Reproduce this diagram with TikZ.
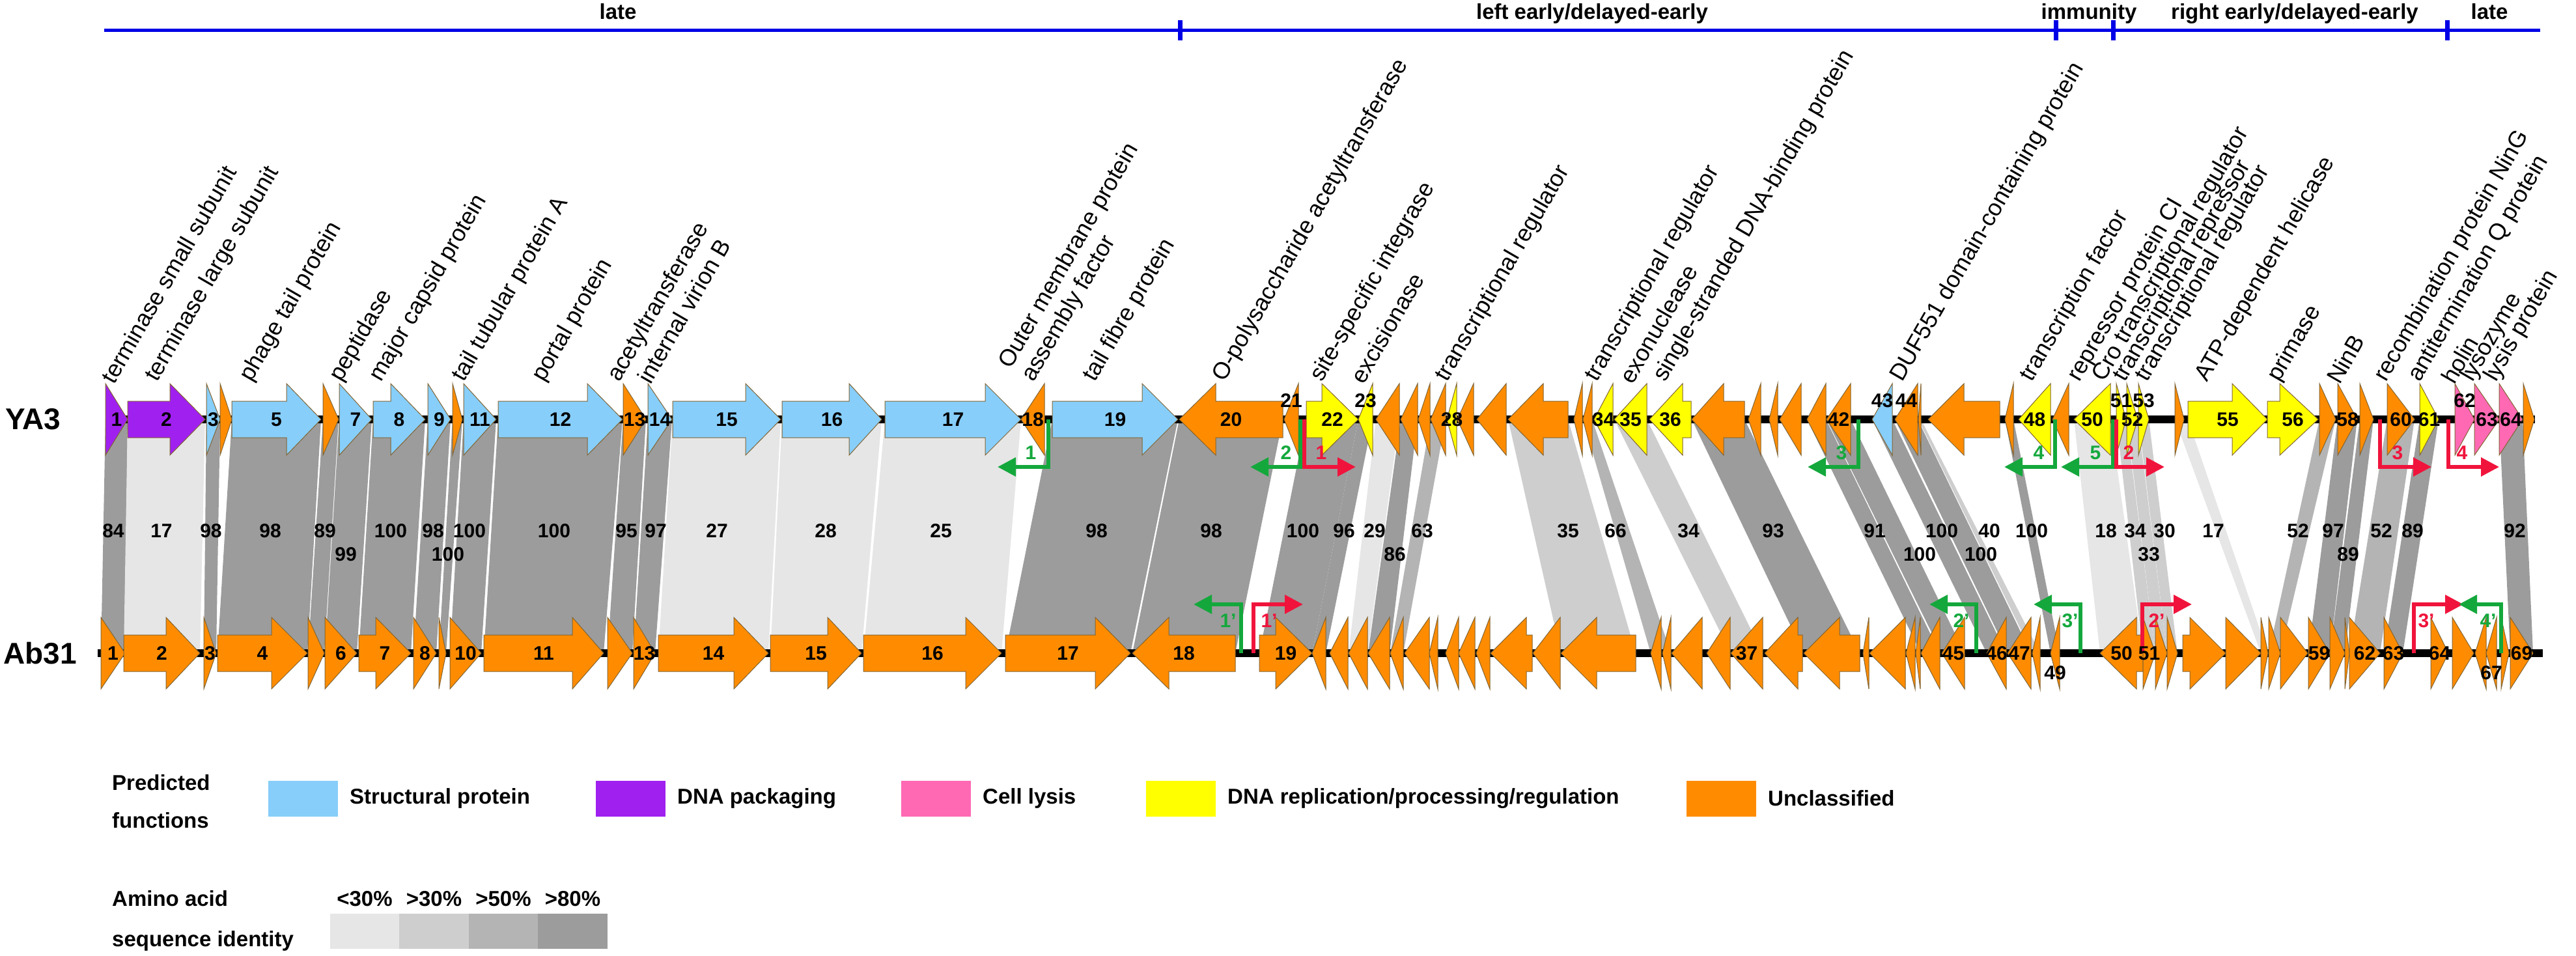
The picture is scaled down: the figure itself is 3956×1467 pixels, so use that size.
\documentclass[tikz,border=0pt]{standalone}
\usepackage{fontspec}
\setmainfont{Liberation Sans}
\usepackage{tikz}
\usetikzlibrary{arrows.meta}
\pgfdeclarelayer{labels}
\pgfsetlayers{main,labels}
\definecolor{blu}{RGB}{135,206,250}
\definecolor{pur}{RGB}{160,32,240}
\definecolor{pnk}{RGB}{255,105,180}
\definecolor{yel}{RGB}{255,255,0}
\definecolor{org}{RGB}{255,140,0}
\definecolor{id30}{RGB}{230,230,230}
\definecolor{id31}{RGB}{206,206,206}
\definecolor{id50}{RGB}{180,180,180}
\definecolor{id80}{RGB}{156,156,156}
\definecolor{grn}{RGB}{20,168,60}
\definecolor{rd}{RGB}{240,20,60}
\definecolor{phaseblue}{RGB}{0,0,230}
\definecolor{genedge}{RGB}{130,100,50}
\newcommand\gene[8][0]{%
  \fill[#7, draw=genedge, line width=1pt] (#3,#2-28) -- (#4,#2-28) -- (#4,#2-55) -- (#5,#2) -- (#4,#2+55) -- (#4,#2+28) -- (#3,#2+28) -- cycle;
  \begin{pgfonlayer}{labels}\node[genenum, yshift=#1pt] (#6) at ({(#3+#5)/2},#2) {#8};\end{pgfonlayer}}
\newcommand\band[9]{%
  \fill[#2] (#3,644) -- (#4,644) -- (#6,1003) -- (#5,1003) -- cycle;
  \begin{pgfonlayer}{labels}\node[genenum] (#1) at (#7,#8) {#9};\end{pgfonlayer}}
\newcommand\prom[9]{%
  \coordinate (#2a) at (#3,#4);
  \coordinate (#2b) at (#6,#5);
  \draw[prom, #1] (#2a) |- (#2b);
  \node[genenum, text=#1] (#2) at (#7,#8) {#9};}

\begin{document}
\begin{tikzpicture}
	[x=1pt,y=-1pt,
	genenum/.style={font=\fontsize{30}{36}\selectfont\bfseries, inner sep=0pt},
	genename/.style={font=\fontsize{36}{40}\selectfont, rotate=60, anchor=south west, inner sep=0pt},
	phase/.style={font=\fontsize{33}{40}\selectfont\bfseries, anchor=base, inner sep=0pt},
	rowname/.style={font=\fontsize{46}{52}\selectfont\bfseries, anchor=west, inner sep=0pt},
	legtext/.style={font=\fontsize{33}{40}\selectfont\bfseries, anchor=west, inner sep=0pt},
	legbox/.style={minimum width=107pt, minimum height=55pt, inner sep=0pt},
	idbox/.style={minimum width=106.5pt, minimum height=54pt, inner sep=0pt},
	genome/.style={line width=12pt, color=black},
	prom/.style={line width=6pt, -{Triangle[length=28pt,width=28pt]}}]
	\useasboundingbox (0,0) rectangle (3956,1467);

	\coordinate (tlA) at (160,46);
	\coordinate (tlB) at (3901,46);
	\draw [line width=5pt, color=phaseblue] (tlA) -- (tlB);
	\coordinate (tk1a) at (1812,31); \coordinate (tk1b) at (1812,62);
	\coordinate (tk2a) at (3157,31); \coordinate (tk2b) at (3157,62);
	\coordinate (tk3a) at (3245,31); \coordinate (tk3b) at (3245,62);
	\coordinate (tk4a) at (3758,31); \coordinate (tk4b) at (3758,62);
	\draw [line width=7pt, color=phaseblue] (tk1a) -- (tk1b);
	\draw [line width=7pt, color=phaseblue] (tk2a) -- (tk2b);
	\draw [line width=7pt, color=phaseblue] (tk3a) -- (tk3b);
	\draw [line width=7pt, color=phaseblue] (tk4a) -- (tk4b);
	\node[phase] (phLateA) at (949,29) {late};
	\node[phase] (phLeft) at (2445,29) {left early/delayed-early};
	\node[phase] (phImm) at (3208,29) {immunity};
	\node[phase] (phRight) at (3524,29) {right early/delayed-early};
	\node[phase] (phLateB) at (3823,29) {late};

	\band{pc1}{id80}{162}{196}{155}{192}{174}{815}{84}
	\band{pc2}{id30}{196}{315}{190}{307}{248}{815}{17}
	\band{pc3}{id80}{317}{338}{313}{332}{324}{815}{98}
	\band{pc5}{id80}{356}{493}{334}{472}{415}{815}{98}
	\band{pc6}{id80}{496}{520}{473}{498}{499}{815}{89}
	\band{pc7}{id80}{521}{571}{499}{548}{531}{851}{99}
	\band{pc8}{id80}{573}{653}{551}{631}{600}{815}{100}
	\band{pc9}{id80}{657}{692}{635}{670}{665}{815}{98}
	\band{pc10}{id80}{695}{710}{674}{685}{688}{851}{100}
	\band{pc11}{id80}{712}{762}{691}{739}{721}{815}{100}
	\band{pc12}{id80}{765}{956}{743}{927}{851}{815}{100}
	\band{pc13}{id80}{957}{992}{933}{971}{962}{815}{95}
	\band{pc14}{id80}{995}{1032}{973}{1006}{1007}{815}{97}
	\band{pc15}{id30}{1033}{1199}{1011}{1180}{1101}{815}{27}
	\band{pc16}{id30}{1201}{1354}{1183}{1323}{1268}{815}{28}
	\band{pc17}{id30}{1359}{1568}{1326}{1538}{1445}{815}{25}
	\band{pc19}{id80}{1616}{1809}{1544}{1736}{1684}{815}{98}
	\band{pc20}{id80}{1811}{1970}{1739}{1897}{1860}{815}{98}
	\band{pc22}{id80}{2006}{2086}{1934}{2015}{2001}{815}{100}
	\band{pc23}{id80}{2086}{2108}{2015}{2036}{2064}{815}{96}
	\band{pc24}{id30}{2113}{2149}{2071}{2100}{2111}{815}{29}
	\band{pc25}{id80}{2151}{2177}{2101}{2134}{2142}{851}{86}
	\band{pc27}{id50}{2197}{2220}{2135}{2155}{2184}{815}{63}
	\band{pc31}{id31}{2316}{2408}{2397}{2512}{2408}{815}{35}
	\band{pc33}{id50}{2431}{2445}{2535}{2566}{2481}{815}{66}
	\band{pc35}{id31}{2479}{2529}{2658}{2707}{2593}{815}{34}
	\band{pc37}{id80}{2598}{2679}{2770}{2856}{2723}{815}{93}
	\band{pc41}{id80}{2775}{2804}{2950}{2979}{2879}{815}{91}
	\band{pc42}{id80}{2805}{2842}{2982}{3017}{2948}{851}{100}
	\band{pc43}{id80}{2875}{2906}{3051}{3081}{2982}{815}{100}
	\band{pc44}{id80}{2910}{2945}{3083}{3119}{3042}{851}{100}
	\band{pc45}{id31}{2946}{2950}{3121}{3133}{3055}{815}{40}
	\band{pc47}{id80}{3079}{3092}{3149}{3163}{3120}{815}{100}
	\band{pc50}{id30}{3185}{3241}{3225}{3291}{3234}{815}{18}
	\band{pc51}{id31}{3250}{3265}{3291}{3310}{3279}{815}{34}
	\band{pc52}{id31}{3266}{3283}{3310}{3328}{3300}{851}{33}
	\band{pc53}{id31}{3284}{3300}{3328}{3344}{3324}{815}{30}
	\band{pc54}{id30}{3340}{3360}{3472}{3483}{3399}{815}{17}
	\band{pc57}{id50}{3562}{3587}{3484}{3502}{3529}{815}{52}
	\band{pc58}{id80}{3590}{3620}{3545}{3578}{3583}{815}{97}
	\band{pc59}{id80}{3624}{3645}{3578}{3601}{3606}{851}{89}
	\band{pc60}{id50}{3666}{3708}{3608}{3655}{3657}{815}{52}
	\band{pc61}{id80}{3716}{3745}{3661}{3690}{3705}{815}{89}
	\band{pc64}{id80}{3838}{3874}{3855}{3890}{3862}{815}{92}

	\coordinate (ya3s) at (162,644);
	\coordinate (ya3e) at (3893,644);
	\draw [genome] (ya3s) -- (ya3e);
	\coordinate (ab31s) at (150,1003);
	\coordinate (ab31e) at (3905,1003);
	\draw [genome] (ab31s) -- (ab31e);
	\node[rowname] (rowYA3) at (8,644) {YA3};
	\node[rowname] (rowAb31) at (5,1003) {Ab31};

	\gene{644}{162}{162}{196}{ya1}{pur}{1}
	\gene{644}{196}{261}{315}{ya2}{pur}{2}
	\gene{644}{317}{317}{338}{ya3}{blu}{3}
	\gene{644}{338}{338}{356}{ya4}{org}{}
	\gene{644}{356}{440}{493}{ya5}{blu}{5}
	\gene{644}{496}{496}{520}{ya6}{org}{}
	\gene{644}{521}{521}{571}{ya7}{blu}{7}
	\gene{644}{573}{600}{653}{ya8}{blu}{8}
	\gene{644}{657}{657}{692}{ya9}{blu}{9}
	\gene{644}{695}{695}{710}{ya10}{org}{}
	\gene{644}{712}{712}{762}{ya11}{blu}{11}
	\gene{644}{765}{902}{956}{ya12}{blu}{12}
	\gene{644}{957}{957}{992}{ya13}{org}{13}
	\gene{644}{995}{995}{1032}{ya14}{blu}{14}
	\gene{644}{1033}{1145}{1199}{ya15}{blu}{15}
	\gene{644}{1201}{1304}{1354}{ya16}{blu}{16}
	\gene{644}{1359}{1513}{1568}{ya17}{blu}{17}
	\gene{644}{1604}{1604}{1568}{ya18}{org}{18}
	\gene{644}{1616}{1754}{1809}{ya19}{blu}{19}
	\gene{644}{1970}{1867}{1811}{ya20}{org}{20}
	\gene[29]{644}{1994}{1994}{1972}{ya21}{org}{21}
	\gene{644}{2006}{2030}{2086}{ya22}{yel}{22}
	\gene[29]{644}{2108}{2108}{2086}{ya23}{yel}{23}
	\gene{644}{2149}{2149}{2113}{ya24}{org}{}
	\gene{644}{2177}{2177}{2151}{ya25}{org}{}
	\gene{644}{2196}{2196}{2178}{ya26}{org}{}
	\gene{644}{2220}{2220}{2197}{ya27}{org}{}
	\gene{644}{2237}{2237}{2222}{ya28}{yel}{28}
	\gene{644}{2263}{2263}{2238}{ya29}{org}{}
	\gene{644}{2313}{2313}{2268}{ya30}{org}{}
	\gene{644}{2408}{2370}{2316}{ya31}{org}{}
	\gene{644}{2430}{2430}{2417}{ya32}{org}{}
	\gene{644}{2445}{2445}{2431}{ya33}{org}{}
	\gene{644}{2477}{2477}{2448}{ya34}{yel}{34}
	\gene{644}{2529}{2529}{2479}{ya35}{yel}{35}
	\gene{644}{2597}{2584}{2533}{ya36}{yel}{36}
	\gene{644}{2679}{2647}{2598}{ya37}{org}{}
	\gene{644}{2704}{2704}{2685}{ya38}{org}{}
	\gene{644}{2730}{2730}{2717}{ya39}{org}{}
	\gene{644}{2766}{2766}{2733}{ya40}{org}{}
	\gene{644}{2804}{2804}{2775}{ya41}{org}{}
	\gene{644}{2842}{2842}{2805}{ya42}{org}{42}
	\gene[29]{644}{2906}{2906}{2875}{ya43}{blu}{43}
	\gene[29]{644}{2945}{2945}{2910}{ya44}{org}{44}
	\gene{644}{2950}{2950}{2946}{ya45}{org}{}
	\gene{644}{3071}{3016}{2961}{ya46}{org}{}
	\gene{644}{3092}{3092}{3079}{ya47}{org}{}
	\gene{644}{3149}{3149}{3100}{ya48}{yel}{48}
	\gene{644}{3177}{3177}{3152}{ya49}{org}{}
	\gene{644}{3241}{3241}{3185}{ya50}{yel}{50}
	\gene[29]{644}{3250}{3250}{3265}{ya51}{yel}{51}
	\gene{644}{3266}{3266}{3283}{ya52}{yel}{52}
	\gene[29]{644}{3284}{3284}{3300}{ya53}{yel}{53}
	\gene{644}{3340}{3340}{3354}{ya54}{org}{}
	\gene{644}{3360}{3428}{3482}{ya55}{yel}{55}
	\gene{644}{3482}{3501}{3560}{ya56}{yel}{56}
	\gene{644}{3562}{3562}{3587}{ya57}{org}{}
	\gene{644}{3590}{3590}{3620}{ya58}{org}{58}
	\gene{644}{3624}{3624}{3645}{ya59}{org}{}
	\gene{644}{3666}{3666}{3708}{ya60}{org}{60}
	\gene{644}{3716}{3716}{3745}{ya61}{yel}{61}
	\gene[29]{644}{3770}{3770}{3800}{ya62}{pnk}{62}
	\gene{644}{3800}{3800}{3838}{ya63}{pnk}{63}
	\gene{644}{3838}{3838}{3874}{ya64}{pnk}{64}
	\gene{644}{3875}{3875}{3892}{ya65}{org}{}

	\gene{1003}{155}{155}{192}{ab1}{org}{1}
	\gene{1003}{190}{255}{307}{ab2}{org}{2}
	\gene{1003}{313}{313}{332}{ab3}{org}{3}
	\gene{1003}{334}{417}{472}{ab4}{org}{4}
	\gene{1003}{473}{473}{498}{ab5}{org}{}
	\gene{1003}{499}{499}{548}{ab6}{org}{6}
	\gene{1003}{551}{577}{631}{ab7}{org}{7}
	\gene{1003}{635}{635}{670}{ab8}{org}{8}
	\gene{1003}{674}{674}{685}{ab9}{org}{}
	\gene{1003}{691}{691}{739}{ab10}{org}{10}
	\gene{1003}{743}{879}{927}{ab11}{org}{11}
	\gene{1003}{933}{933}{971}{ab12}{org}{}
	\gene{1003}{973}{973}{1006}{ab13}{org}{13}
	\gene{1003}{1011}{1127}{1180}{ab14}{org}{14}
	\gene{1003}{1183}{1271}{1323}{ab15}{org}{15}
	\gene{1003}{1326}{1483}{1538}{ab16}{org}{16}
	\gene{1003}{1544}{1682}{1736}{ab17}{org}{17}
	\gene{1003}{1897}{1795}{1739}{ab18}{org}{18}
	\gene{1003}{1934}{1959}{2015}{ab19}{org}{19}
	\gene{1003}{2036}{2036}{2015}{ab20}{org}{}
	\gene{1003}{2070}{2070}{2042}{ab21}{org}{}
	\gene{1003}{2100}{2100}{2071}{ab22}{org}{}
	\gene{1003}{2134}{2134}{2101}{ab23}{org}{}
	\gene{1003}{2155}{2155}{2135}{ab24}{org}{}
	\gene{1003}{2195}{2195}{2157}{ab25}{org}{}
	\gene{1003}{2208}{2208}{2195}{ab26}{org}{}
	\gene{1003}{2240}{2240}{2220}{ab27}{org}{}
	\gene{1003}{2265}{2265}{2240}{ab28}{org}{}
	\gene{1003}{2288}{2288}{2267}{ab29}{org}{}
	\gene{1003}{2353}{2344}{2289}{ab30}{org}{}
	\gene{1003}{2396}{2396}{2354}{ab31}{org}{}
	\gene{1003}{2512}{2452}{2397}{ab32}{org}{}
	\gene{1003}{2551}{2551}{2535}{ab33}{org}{}
	\gene{1003}{2566}{2566}{2553}{ab34}{org}{}
	\gene{1003}{2614}{2614}{2567}{ab35}{org}{}
	\gene{1003}{2657}{2657}{2621}{ab36}{org}{}
	\gene{1003}{2707}{2707}{2658}{ab37}{org}{37}
	\gene{1003}{2768}{2761}{2710}{ab38}{org}{}
	\gene{1003}{2856}{2825}{2770}{ab39}{org}{}
	\gene{1003}{2870}{2870}{2861}{ab40}{org}{}
	\gene{1003}{2926}{2926}{2871}{ab41}{org}{}
	\gene{1003}{2941}{2941}{2927}{ab42}{org}{}
	\gene{1003}{2949}{2949}{2942}{ab43}{org}{}
	\gene{1003}{2979}{2979}{2950}{ab44}{org}{}
	\gene{1003}{3017}{3017}{2982}{ab45}{org}{45}
	\gene{1003}{3081}{3081}{3051}{ab46}{org}{46}
	\gene{1003}{3119}{3119}{3083}{ab47}{org}{47}
	\gene{1003}{3133}{3133}{3121}{ab48}{org}{}
	\gene[-30]{1003}{3163}{3163}{3149}{ab49}{org}{49}
	\gene{1003}{3291}{3281}{3225}{ab50}{org}{50}
	\gene{1003}{3291}{3291}{3310}{ab51}{org}{51}
	\gene{1003}{3310}{3310}{3328}{ab52}{org}{}
	\gene{1003}{3328}{3328}{3344}{ab53}{org}{}
	\gene{1003}{3352}{3363}{3418}{ab54}{org}{}
	\gene{1003}{3418}{3418}{3472}{ab55}{org}{}
	\gene{1003}{3472}{3472}{3483}{ab56}{org}{}
	\gene{1003}{3484}{3484}{3502}{ab57}{org}{}
	\gene{1003}{3502}{3502}{3544}{ab58}{org}{}
	\gene{1003}{3545}{3545}{3578}{ab59}{org}{59}
	\gene{1003}{3578}{3578}{3601}{ab60}{org}{}
	\gene{1003}{3601}{3601}{3608}{ab61}{org}{}
	\gene{1003}{3608}{3608}{3655}{ab62}{org}{62}
	\gene{1003}{3661}{3661}{3690}{ab63}{org}{63}
	\gene{1003}{3733}{3733}{3760}{ab64}{org}{64}
	\gene{1003}{3766}{3766}{3799}{ab65}{org}{}
	\gene{1003}{3818}{3818}{3801}{ab66}{org}{}
	\gene[-30]{1003}{3834}{3834}{3818}{ab67}{org}{67}
	\gene{1003}{3841}{3841}{3853}{ab68}{org}{}
	\gene{1003}{3855}{3855}{3890}{ab69}{org}{69}

	\prom{grn}{pL1}{1610}{644}{717}{1532}{1583}{695}{1}
	\prom{grn}{pL2}{1997}{644}{717}{1920}{1975}{695}{2}
	\prom{rd}{pR1}{2003}{644}{717}{2082}{2029}{695}{1}
	\prom{grn}{pL3}{2854}{644}{717}{2776}{2828}{695}{3}
	\prom{grn}{pL4}{3156}{644}{717}{3078}{3131}{695}{4}
	\prom{grn}{pL5}{3245}{644}{717}{3165}{3218}{695}{5}
	\prom{rd}{pR2}{3250}{644}{717}{3324}{3269}{695}{2}
	\prom{rd}{pR3}{3655}{644}{717}{3734}{3682}{695}{3}
	\prom{rd}{pR4}{3760}{644}{717}{3838}{3781}{695}{4}
	\prom{grn}{qL1}{1906}{1003}{928}{1833}{1886}{953}{1’}
	\prom{rd}{qR1}{1925}{1003}{928}{2001}{1949}{953}{1’}
	\prom{grn}{qL2}{3035}{1003}{928}{2963}{3012}{953}{2’}
	\prom{grn}{qL3}{3195}{1003}{928}{3123}{3179}{953}{3’}
	\prom{rd}{qR2}{3290}{1003}{928}{3366}{3312}{953}{2’}
	\prom{rd}{qR3}{3707}{1003}{928}{3783}{3726}{953}{3’}
	\prom{grn}{qL4}{3841}{1003}{928}{3776}{3821}{953}{4’}

	\node[genename] (fnTermS) at (176,592) {terminase small subunit};
	\node[genename] (fnTermL) at (248,592) {terminase large subunit};
	\node[genename] (fnTail) at (393,592) {phage tail protein};
	\node[genename] (fnPept) at (531,592) {peptidase};
	\node[genename] (fnCapsid) at (592,592) {major capsid protein};
	\node[genename] (fnTubA) at (719,592) {tail tubular protein A};
	\node[genename] (fnPortal) at (842,592) {portal protein};
	\node[genename] (fnAcetyl) at (958,592) {acetyltransferase};
	\node[genename] (fnVirB) at (1000,592) {internal virion B};
	\node[genename, align=left] (fnOmp) at (1594,592) {Outer membrane protein\\assembly factor};
	\node[genename] (fnFibre) at (1688,592) {tail fibre protein};
	\node[genename] (fnOpoly) at (1887,592) {O-polysaccharide acetyltransferase};
	\node[genename] (fnInt) at (2037,592) {site-specific integrase};
	\node[genename] (fnExc) at (2095,592) {excisionase};
	\node[genename] (fnTrA) at (2229,592) {transcriptional regulator};
	\node[genename] (fnTrB) at (2459,592) {transcriptional regulator};
	\node[genename] (fnExo) at (2508,592) {exonuclease};
	\node[genename] (fnSsb) at (2564,592) {single-stranded DNA-binding protein};
	\node[genename] (fnDuf) at (2928,592) {DUF551 domain-containing protein};
	\node[genename] (fnTf) at (3127,592) {transcription factor};
	\node[genename] (fnCI) at (3200,592) {repressor protein CI};
	\node[genename] (fnCro) at (3238,592) {Cro transcriptional regulator};
	\node[genename] (fnTrRep) at (3270,592) {transcriptional repressor};
	\node[genename] (fnTrC) at (3304,592) {transcriptional regulator};
	\node[genename] (fnHel) at (3396,592) {ATP-dependent helicase};
	\node[genename] (fnPrim) at (3507,592) {primase};
	\node[genename] (fnNinB) at (3594,592) {NinB};
	\node[genename] (fnNinG) at (3671,592) {recombination protein NinG};
	\node[genename] (fnQ) at (3723,592) {antitermination Q protein};
	\node[genename] (fnHolin) at (3770,592) {holin};
	\node[genename] (fnLyso) at (3804,592) {lysozyme};
	\node[genename] (fnLysis) at (3840,592) {lysis protein};

	\node[legtext, align=left, font=\fontsize{33}{58}\selectfont\bfseries] (lgFunc) at (172,1231) {Predicted\\functions};
	\node[legbox, fill=blu] (lgStruct) at (465.5,1226.5) {};
	\node[legtext] (lgStructT) at (537,1226) {Structural protein};
	\node[legbox, fill=pur] (lgPack) at (968.5,1226.5) {};
	\node[legtext] (lgPackT) at (1040,1226) {DNA packaging};
	\node[legbox, fill=pnk] (lgLysis) at (1437.5,1226.5) {};
	\node[legtext] (lgLysisT) at (1509,1226) {Cell lysis};
	\node[legbox, fill=yel] (lgRepl) at (1813.5,1226.5) {};
	\node[legtext] (lgReplT) at (1885,1226) {DNA replication/processing/regulation};
	\node[legbox, fill=org] (lgUncl) at (2643.5,1226.5) {};
	\node[legtext] (lgUnclT) at (2715,1226) {Unclassified};
	\node[legtext, align=left, font=\fontsize{33}{62}\selectfont\bfseries] (lgIdent) at (172,1414) {Amino acid\\sequence identity};
	\node[idbox, fill=id30] (lgId30) at (560,1430) {};
	\node[idbox, fill=id31] (lgId31) at (666.5,1430) {};
	\node[idbox, fill=id50] (lgId50) at (773,1430) {};
	\node[idbox, fill=id80] (lgId80) at (879.5,1430) {};
	\node[phase, anchor=center] (lgId30T) at (560,1380) {<30\%};
	\node[phase, anchor=center] (lgId31T) at (666.5,1380) {>30\%};
	\node[phase, anchor=center] (lgId50T) at (773,1380) {>50\%};
	\node[phase, anchor=center] (lgId80T) at (879.5,1380) {>80\%};
\end{tikzpicture}
\end{document}
